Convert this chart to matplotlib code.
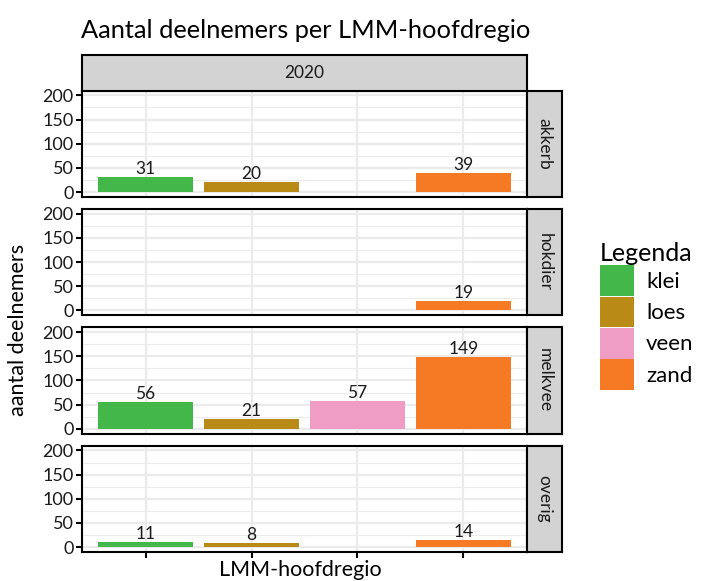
import numpy as np
import matplotlib
matplotlib.use('Agg')
import matplotlib.pyplot as plt
from matplotlib.patches import Patch

plt.rcParams['font.family'] = ['Lato', 'DejaVu Sans']

# gegevens
regios = ['klei', 'loes', 'veen', 'zand']
kleuren = ['#44b74a', '#b98a16', '#f09dc6', '#f57a23']
bedrijfstypen = ['akkerb', 'hokdier', 'melkvee', 'overig']
akkerb = [31, 20, None, 39]
hokdier = [None, None, None, 19]
melkvee = [56, 21, 57, 149]
overig = [11, 8, None, 14]
jaar = '2020'
data = [akkerb, hokdier, melkvee, overig]

W, H = 704, 581
fig = plt.figure(figsize=(W / 100, H / 100), dpi=100)
gs = fig.add_gridspec(4, 1, left=82 / W, right=527 / W, top=1 - 90.5 / H,
                      bottom=1 - 552 / H, hspace=0.113)

x = np.arange(1, len(regios) + 1)
for i, (naam, waarden) in enumerate(zip(bedrijfstypen, data)):
    ax = fig.add_subplot(gs[i])
    ax.set_facecolor('white')
    for j, v in enumerate(waarden):
        if v is None:
            continue
        ax.bar(x[j], v, width=0.9, color=kleuren[j], zorder=3)
        ax.text(x[j], v, str(v), ha='center', va='bottom', fontsize=12.5,
                color='#1a1a1a', zorder=4)
    ax.set_xlim(0.4, 4.6)
    ax.set_ylim(-10, 210)
    ax.set_yticks([0, 50, 100, 150, 200])
    ax.set_yticks([25, 75, 125, 175], minor=True)
    ax.set_xticks(x)
    ax.set_xticklabels([])
    ax.grid(True, which='major', color='#ebebeb', lw=1.6, zorder=0)
    ax.grid(True, which='minor', axis='y', color='#ebebeb', lw=0.8, zorder=0)
    ax.tick_params(axis='y', which='major', labelsize=13, length=4, width=1.5,
                   colors='black', pad=2, labelcolor='#1a1a1a')
    ax.tick_params(axis='y', which='minor', length=0)
    ax.tick_params(axis='x', length=4 if i == 3 else 0, width=1.5)
    for s in ax.spines.values():
        s.set_linewidth(1.5)
        s.set_color('black')
    # strip rechts
    pos = ax.get_position()
    sax = fig.add_axes([527 / W, pos.y0, 35 / W, pos.height])
    sax.set_facecolor('#d3d3d3')
    sax.set_xticks([])
    sax.set_yticks([])
    for s in sax.spines.values():
        s.set_linewidth(1.5)
    sax.text(0.5, 0.5, naam, rotation=-90, ha='center', va='center',
             fontsize=12.5, color='#1a1a1a', transform=sax.transAxes)
    if i == 0:
        tax = fig.add_axes([pos.x0, pos.y1, pos.width, 36 / H])
        tax.set_facecolor('#d3d3d3')
        tax.set_xticks([])
        tax.set_yticks([])
        for s in tax.spines.values():
            s.set_linewidth(1.5)
        tax.text(0.5, 0.5, jaar, ha='center', va='center', fontsize=12.5,
                 color='#1a1a1a', transform=tax.transAxes)

fig.text(81 / W, 1 - 30 / H, 'Aantal deelnemers per LMM-hoofdregio',
         fontsize=18.3, ha='left', va='center', color='black')
fig.text(18 / W, 1 - 330 / H, 'aantal deelnemers', rotation=90,
         fontsize=15.5, ha='center', va='center')
fig.text(300 / W, 1 - 570 / H, 'LMM-hoofdregio', fontsize=15.5,
         ha='center', va='center')

handles = [Patch(facecolor=c, edgecolor='none') for c in kleuren]
leg = fig.legend(handles, regios, title='Legenda', loc='upper left',
                 bbox_to_anchor=(580 / W, 1 - 222 / H), frameon=False,
                 fontsize=16, title_fontsize=18, handlelength=1.53,
                 handleheight=1.75, labelspacing=0.02, handletextpad=0.55,
                 alignment='left')

fig.savefig('out.png', dpi=100)
